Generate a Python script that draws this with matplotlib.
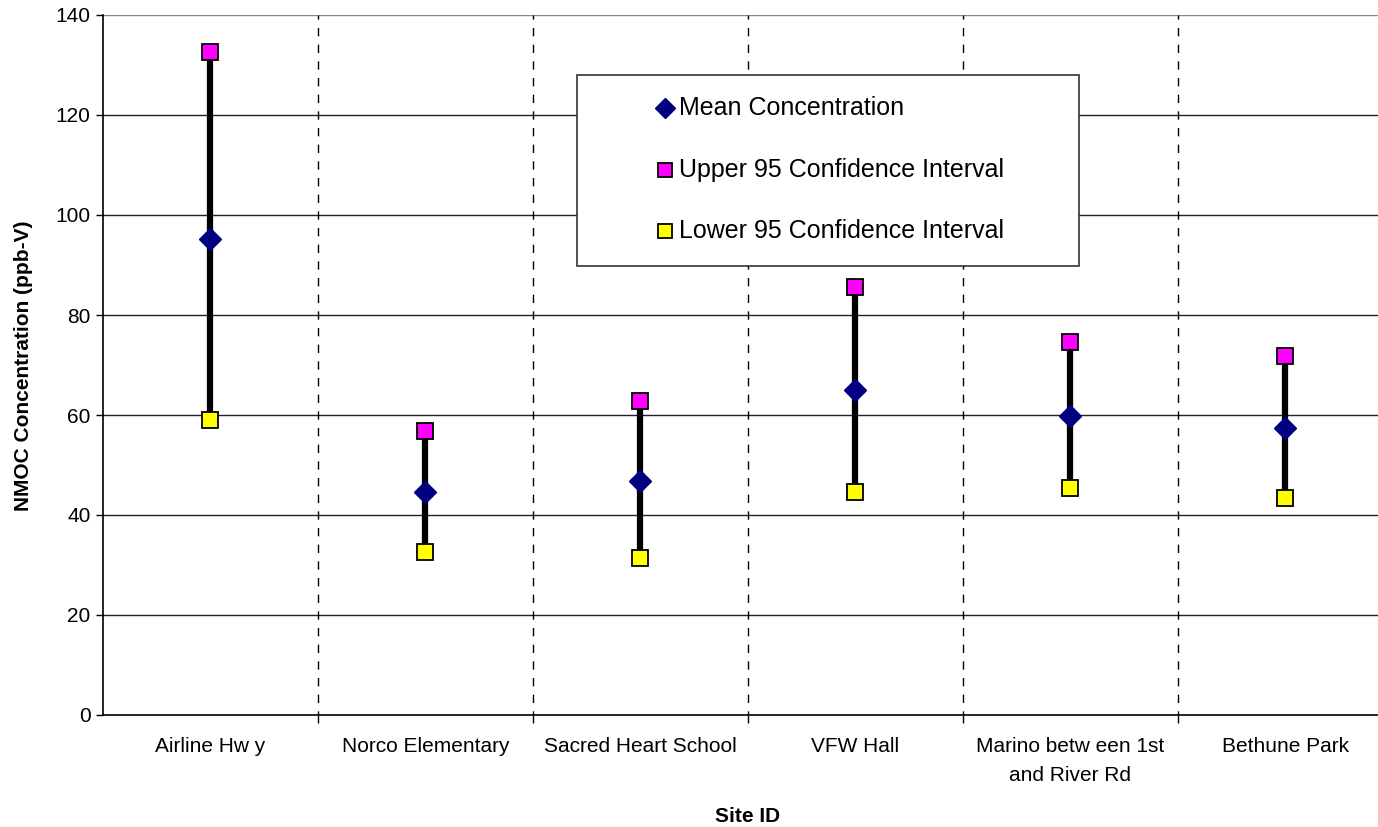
import matplotlib
matplotlib.use("Agg")
import matplotlib.pyplot as plt
from matplotlib.lines import Line2D
from matplotlib.patches import Rectangle
import numpy as np

plt.rcParams['font.family'] = ['Liberation Sans', 'DejaVu Sans']

sites = ["Airline Hw y", "Norco Elementary", "Sacred Heart School", "VFW Hall",
         "Marino betw een 1st\nand River Rd", "Bethune Park"]
mean_conc = [95.3, 44.6, 46.8, 65.0, 59.8, 57.4]
upper_95 = [132.7, 56.8, 62.8, 85.6, 74.6, 71.8]
lower_95 = [59.0, 32.6, 31.4, 44.6, 45.4, 43.4]
legend_labels = ['Mean Concentration', 'Upper 95 Confidence Interval', 'Lower 95 Confidence Interval']

W, H = 1378, 827
fig = plt.figure(figsize=(W / 100, H / 100), dpi=100)
ax = fig.add_axes([103 / W, 1 - 715 / H, (1393 - 103) / W, 700 / H])

x = np.arange(len(sites))
ax.vlines(x, lower_95, upper_95, color='black', linewidth=4.5, zorder=3)
ax.plot(x, upper_95, linestyle='none', marker='s', markersize=12,
        markerfacecolor='#FF00FF', markeredgecolor='black', markeredgewidth=1.3, zorder=4)
ax.plot(x, lower_95, linestyle='none', marker='s', markersize=12,
        markerfacecolor='#FFFF00', markeredgecolor='black', markeredgewidth=1.3, zorder=4)
ax.plot(x, mean_conc, linestyle='none', marker='D', markersize=11,
        markerfacecolor='#000080', markeredgecolor='#000080', zorder=5)

ax.set_xlim(-0.5, len(sites) - 0.5)
ax.set_ylim(0, 140)
ax.set_yticks(np.arange(0, 141, 20))
ax.tick_params(axis='y', labelsize=15, length=5, direction='out', width=1, pad=4)
ax.set_xticks(x)
ax.set_xticklabels(sites, fontsize=15, linespacing=1.65, va='top')
ax.tick_params(axis='x', length=0, pad=16)
ax.set_xticks(np.arange(0.5, len(sites) - 0.5, 1), minor=True)
ax.tick_params(axis='x', which='minor', length=6, width=1, direction='out')

for yv in np.arange(20, 141, 20):
    ax.axhline(yv, color='#222222' if yv < 140 else '#888888', linewidth=1, zorder=1)
for xv in np.arange(0.5, len(sites) - 0.5, 1):
    ax.axvline(xv, color='black', linewidth=1, linestyle=(3, (6, 6)), zorder=1)

for s in ['top', 'right']:
    ax.spines[s].set_visible(False)
ax.spines['left'].set_linewidth(1.2)
ax.spines['bottom'].set_linewidth(1.2)

fig.text(24 / W, 1 - 366 / H, 'NMOC Concentration (ppb-V)', fontsize=15, fontweight='bold',
         rotation=90, ha='center', va='center')
fig.text(748 / W, 1 - 817 / H, 'Site ID', fontsize=15, fontweight='bold',
         ha='center', va='center')

# legend box drawn manually
fig.patches.append(Rectangle((577 / W, 1 - 266 / H), (1079 - 577) / W, (266 - 75) / H,
                             transform=fig.transFigure, facecolor='white',
                             edgecolor='#333333', linewidth=1.2, zorder=10))
ys = [108, 170, 231]
styles = [dict(marker='D', markersize=10, markerfacecolor='#000080', markeredgecolor='#000080'),
          dict(marker='s', markersize=10, markerfacecolor='#FF00FF', markeredgecolor='black',
               markeredgewidth=1.3),
          dict(marker='s', markersize=10, markerfacecolor='#FFFF00', markeredgecolor='black',
               markeredgewidth=1.3)]
for yy, lab, st in zip(ys, legend_labels, styles):
    fig.lines.append(Line2D([665 / W], [1 - yy / H], transform=fig.transFigure,
                            linestyle='none', zorder=11, **st))
    fig.text(679 / W, 1 - yy / H, lab, fontsize=18, ha='left', va='center', zorder=11)

fig.savefig('out.png', dpi=100, facecolor='white')
